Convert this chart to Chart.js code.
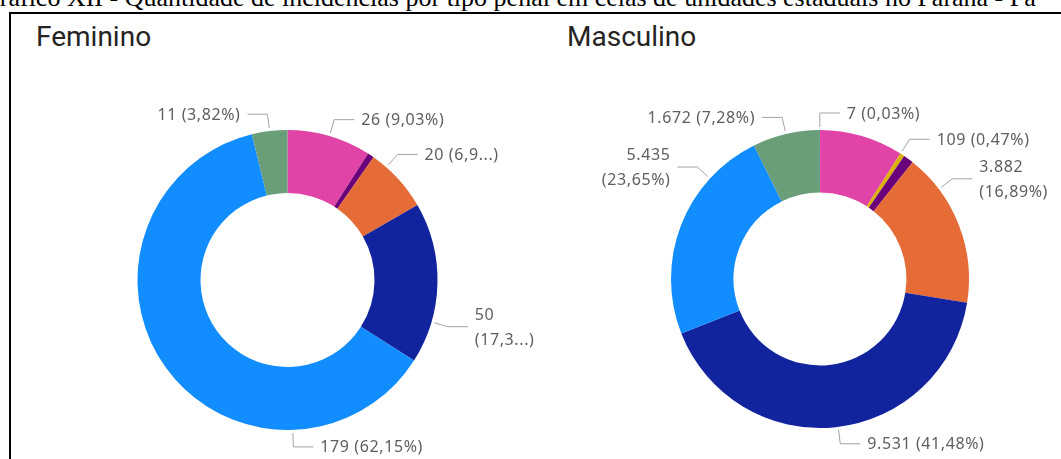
<!DOCTYPE html>
<html>
<head>
<meta charset="utf-8">
<script src="https://cdn.jsdelivr.net/npm/chart.js@4.4.0/dist/chart.umd.min.js"></script>
<style>
  body { margin: 0; width: 1061px; height: 459px; overflow: hidden; background: #fff; position: relative; }
  #caption { position: absolute; left: -19px; top: -15px; font: 26px/26px 'Liberation Serif', serif; white-space: nowrap; color: #000; }
  #frame { position: absolute; left: 9px; top: 12px; width: 1100px; height: 500px; border-left: 2px solid #000; border-top: 2px solid #000; }
  .title { position: absolute; top: 23px; font: 28px/28px 'Roboto', sans-serif; color: #252423; }
  .box { position: absolute; top: 60px; height: 399px; }
</style>
</head>
<body>
<div id="caption">Gráfico XII - Quantidade de incidências por tipo penal em celas de unidades estaduais no Paraná - Fa</div>
<div id="frame"></div>
<div class="title" style="left:36px">Feminino</div>
<div class="title" style="left:567px">Masculino</div>
<div class="box" style="left:11px;width:529px"><canvas id="chart-fem"></canvas></div>
<div class="box" style="left:555px;width:506px"><canvas id="chart-masc"></canvas></div>

<script>
// categories (tipo penal) - names are not shown in the picture
const categories = ['Tipo A', 'Tipo B', 'Tipo C', 'Tipo D', 'Tipo E', 'Tipo F', 'Tipo G', 'Tipo H'];
const colors = ['#E044A7', '#D9B300', '#6B007B', '#E66C37', '#12239E', '#118DFF', '#6A9E78', '#197278'];

const femininoValues = [26, 0, 2, 20, 50, 179, 11, 0];
const masculinoValues = [2085, 109, 257, 3882, 9531, 5435, 1672, 7];

// label placement per slice: f = where along the slice the leader starts,
// wrap = value and percent on two lines, keep = chars of percent kept before "..."
const femininoLabels = [
  { f: 0.5 }, null, null,
  { f: 0.25, keep: 3 },
  { f: 0.74, wrap: true, keep: 4 },
  { f: 0.248 },
  { f: 0.5 },
  null
];
const masculinoLabels = [
  null,
  { f: 0.02 },
  null,
  { f: 0.238, wrap: true },
  { f: 0.494 },
  { f: 0.75, wrap: true },
  { f: 0.5 },
  { f: 0.5, side: 'right' }
];

function fmtNum(v) {
  return String(v).replace(/\B(?=(\d{3})+(?!\d))/g, '.');
}

const outsideLabels = {
  id: 'outsideLabels',
  afterDatasetsDraw(chart, args, opts) {
    const ctx = chart.ctx;
    const meta = chart.getDatasetMeta(0);
    const values = chart.data.datasets[0].data;
    const total = values.reduce((a, b) => a + b, 0);
    ctx.save();
    ctx.font = '16px "Noto Sans", sans-serif';
    ctx.letterSpacing = '0.6px';
    ctx.textBaseline = 'middle';
    opts.items.forEach((item, i) => {
      if (!item || !values[i]) return;
      const arc = meta.data[i];
      const { x, y, startAngle, endAngle, outerRadius } =
        arc.getProps(['x', 'y', 'startAngle', 'endAngle', 'outerRadius'], true);
      const a = startAngle + (endAngle - startAngle) * item.f;
      const cos = Math.cos(a), sin = Math.sin(a);
      const x0 = x + cos * (outerRadius + 3), y0 = y + sin * (outerRadius + 3);
      const x1 = x + cos * (outerRadius + 17), y1 = y + sin * (outerRadius + 17);
      const right = item.side ? item.side === 'right' : cos >= 0;
      const x2 = right ? x1 + 20 : x1 - 20;

      ctx.strokeStyle = '#A3A3A3';
      ctx.lineWidth = 1;
      ctx.beginPath();
      ctx.moveTo(x0, y0);
      ctx.lineTo(x1, y1);
      ctx.lineTo(x2, y1);
      ctx.stroke();

      let pct = (values[i] / total * 100).toFixed(2).replace('.', ',') + '%';
      if (item.keep) pct = pct.slice(0, item.keep) + '...';
      const num = fmtNum(values[i]);
      const lines = item.wrap ? [num, '(' + pct + ')'] : [num + ' (' + pct + ')'];

      ctx.fillStyle = '#605E5C';
      ctx.textAlign = right ? 'left' : 'right';
      const tx = right ? x2 + 7 : x2 - 7;
      const lh = 25;
      const top = y1 + 1 - (lines.length - 1) * lh / 2;
      lines.forEach((t, k) => ctx.fillText(t, tx, top + k * lh));
    });
    ctx.restore();
  }
};

function makeDonut(id, values, labels, padding) {
  new Chart(document.getElementById(id), {
    type: 'doughnut',
    data: {
      labels: categories,
      datasets: [{
        data: values,
        backgroundColor: colors,
        borderWidth: 0,
        hoverOffset: 0
      }]
    },
    options: {
      responsive: true,
      maintainAspectRatio: false,
      animation: false,
      cutout: '58%',
      layout: { padding },
      plugins: {
        legend: { display: false },
        tooltip: { enabled: false },
        outsideLabels: { items: labels }
      }
    },
    plugins: [outsideLabels]
  });
}

makeDonut('chart-fem', femininoValues, femininoLabels, { left: 126.5, top: 70, right: 102.5, bottom: 29 });
makeDonut('chart-masc', masculinoValues, masculinoLabels, { left: 116, top: 70, right: 92, bottom: 31 });
</script>
</body>
</html>
